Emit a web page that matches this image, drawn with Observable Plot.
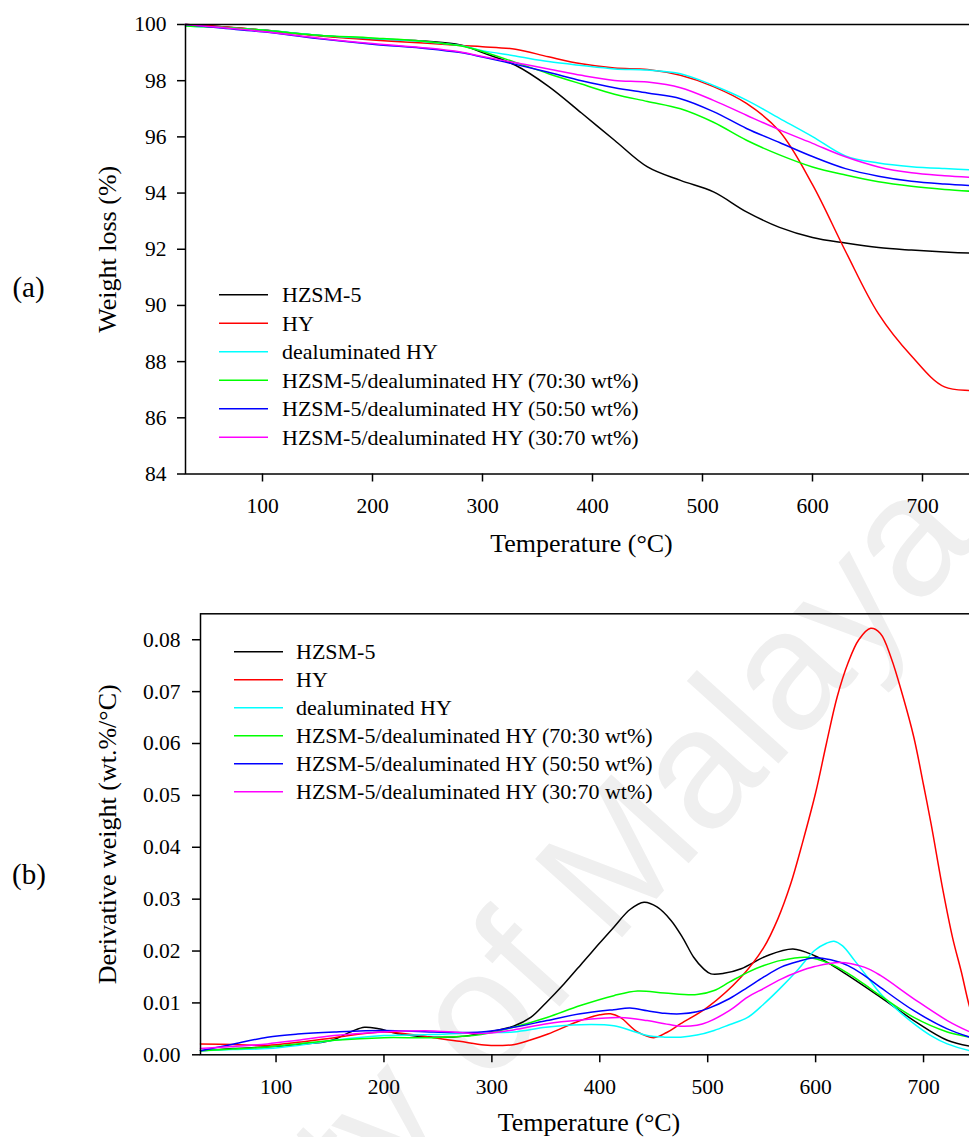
<!DOCTYPE html>
<html>
<head>
<meta charset="utf-8">
<script src="https://cdn.jsdelivr.net/npm/d3@7"></script>
<script src="https://cdn.jsdelivr.net/npm/@observablehq/plot@0.6"></script>
<style>
  html, body { margin: 0; padding: 0; background: #fff; }
  #wrap { position: relative; width: 969px; height: 1137px; overflow: hidden; background: #fff; }
  #wrap > svg { position: absolute; left: 0; }
  [aria-label="x-axis tick"], [aria-label="y-axis tick"] { stroke-width: 1.5px; }
</style>
</head>
<body>
<div id="wrap"></div>
<script>
// ---------------- data ----------------
const series = [
  "HZSM-5",
  "HY",
  "dealuminated HY",
  "HZSM-5/dealuminated HY (70:30 wt%)",
  "HZSM-5/dealuminated HY (50:50 wt%)",
  "HZSM-5/dealuminated HY (30:70 wt%)"
];
const seriesColors = ["#000000", "#ff0000", "#00ffff", "#00ff00", "#0000ff", "#ff00ff"];

const tempTicks = [100, 200, 300, 400, 500, 600, 700];
const tgaTicks = [84, 86, 88, 90, 92, 94, 96, 98, 100];
const dtgTicks = [0, 0.01, 0.02, 0.03, 0.04, 0.05, 0.06, 0.07, 0.08];

// (a) TGA: weight (%) vs temperature (°C)
const tgaTemp = [30, 60, 100, 150, 200, 250, 280, 300, 330, 360, 390, 420, 450, 480, 510, 540, 570, 600, 630, 660, 690, 720, 750];
const tgaHZSM5 = [100.0, 99.93, 99.80, 99.62, 99.49, 99.40, 99.27, 99.00, 98.55, 97.80, 96.85, 95.88, 94.93, 94.45, 94.04, 93.33, 92.78, 92.42, 92.22, 92.06, 91.97, 91.90, 91.85];
const tgaHY = [100.0, 99.93, 99.80, 99.60, 99.45, 99.33, 99.25, 99.21, 99.12, 98.85, 98.60, 98.45, 98.40, 98.19, 97.79, 97.19, 96.20, 94.30, 91.93, 89.70, 88.20, 87.10, 86.98];
const tgaDealHY = [99.95, 99.90, 99.80, 99.62, 99.50, 99.38, 99.25, 99.07, 98.88, 98.68, 98.54, 98.42, 98.38, 98.25, 97.83, 97.31, 96.66, 96.01, 95.32, 95.07, 94.94, 94.87, 94.82];
const tga7030 = [99.95, 99.90, 99.80, 99.62, 99.52, 99.39, 99.24, 99.04, 98.65, 98.25, 97.88, 97.52, 97.26, 97.00, 96.52, 95.88, 95.36, 94.93, 94.64, 94.40, 94.24, 94.13, 94.05];
const tga5050 = [100.0, 99.88, 99.74, 99.50, 99.30, 99.14, 99.00, 98.84, 98.58, 98.30, 98.00, 97.75, 97.56, 97.36, 96.90, 96.30, 95.80, 95.30, 94.87, 94.60, 94.42, 94.32, 94.25];
const tga3070 = [100.0, 99.90, 99.75, 99.52, 99.32, 99.16, 99.02, 98.86, 98.64, 98.42, 98.19, 98.01, 97.95, 97.75, 97.30, 96.77, 96.25, 95.77, 95.29, 94.93, 94.72, 94.62, 94.55];

// (b) DTG: derivative weight (wt.%/°C) vs temperature (°C)
const dtgHZSM5T = [30, 60, 90, 120, 150, 170, 182, 195, 215, 245, 275, 300, 320, 336, 350, 367, 385, 398, 413, 428, 441, 453, 466, 477, 487, 496, 503, 515, 531, 555, 579, 599, 615, 630, 660, 691, 722, 750];
const dtgHZSM5 = [0.0008, 0.0012, 0.0015, 0.0020, 0.0027, 0.0045, 0.0053, 0.0050, 0.0040, 0.0034, 0.0036, 0.0045, 0.0055, 0.0072, 0.0100, 0.0137, 0.0180, 0.0211, 0.0246, 0.0280, 0.0294, 0.0285, 0.0259, 0.0225, 0.0188, 0.0166, 0.0156, 0.0157, 0.0166, 0.0191, 0.0204, 0.0191, 0.0173, 0.0153, 0.0111, 0.0066, 0.0028, 0.0014];

const dtgHYT = [30, 60, 92, 120, 154, 200, 246, 270, 293, 310, 321, 335, 352, 382, 400, 410, 419, 435, 450, 462, 475, 500, 531, 552, 565, 577, 588, 600, 610, 620, 630, 640, 651, 660, 670, 681, 691, 700, 707, 718, 727, 735, 743, 750];
const dtgHY = [0.0021, 0.0020, 0.0018, 0.0024, 0.0033, 0.0044, 0.0033, 0.0026, 0.0019, 0.0018, 0.0020, 0.0028, 0.0040, 0.0066, 0.0077, 0.0079, 0.0072, 0.0044, 0.0033, 0.0043, 0.0060, 0.0092, 0.0150, 0.0207, 0.0262, 0.0330, 0.0410, 0.0505, 0.0600, 0.0690, 0.0755, 0.0800, 0.0822, 0.0812, 0.0765, 0.0690, 0.0612, 0.0520, 0.0445, 0.0317, 0.0225, 0.0160, 0.0090, 0.0050];

const dtgDealHYT = [30, 60, 92, 120, 154, 200, 246, 290, 320, 350, 382, 413, 430, 444, 460, 475, 490, 506, 520, 537, 552, 568, 584, 599, 610, 617, 625, 636, 648, 660, 675, 691, 706, 722, 743, 750];
const dtgDealHY = [0.0008, 0.0010, 0.0012, 0.0018, 0.0028, 0.0037, 0.0039, 0.0043, 0.0044, 0.0053, 0.0058, 0.0056, 0.0046, 0.0037, 0.0034, 0.0034, 0.0038, 0.0047, 0.0058, 0.0072, 0.0098, 0.0130, 0.0165, 0.0201, 0.0215, 0.0219, 0.0210, 0.0182, 0.0150, 0.0118, 0.0088, 0.0060, 0.0038, 0.0021, 0.0008, 0.0006];

const dtg7030T = [30, 60, 92, 120, 154, 200, 246, 290, 320, 351, 382, 413, 435, 460, 490, 506, 520, 537, 552, 568, 592, 614, 630, 645, 660, 691, 722, 743, 750];
const dtg7030 = [0.0008, 0.0011, 0.0015, 0.0021, 0.0028, 0.0033, 0.0033, 0.0039, 0.0053, 0.0072, 0.0095, 0.0114, 0.0123, 0.0119, 0.0116, 0.0124, 0.0140, 0.0159, 0.0172, 0.0182, 0.0188, 0.0175, 0.0157, 0.0136, 0.0114, 0.0072, 0.0044, 0.0034, 0.0031];

const dtg5050T = [30, 61, 92, 120, 154, 200, 246, 290, 320, 351, 382, 413, 428, 444, 460, 475, 490, 500, 520, 537, 552, 568, 584, 599, 614, 630, 645, 660, 691, 722, 743, 750];
const dtg5050 = [0.0008, 0.0021, 0.0034, 0.0040, 0.0044, 0.0047, 0.0044, 0.0044, 0.0053, 0.0066, 0.0079, 0.0087, 0.0090, 0.0085, 0.0080, 0.0079, 0.0083, 0.0089, 0.0108, 0.0130, 0.0150, 0.0169, 0.0180, 0.0187, 0.0183, 0.0172, 0.0153, 0.0130, 0.0085, 0.0050, 0.0034, 0.0030];

const dtg3070T = [30, 60, 92, 120, 154, 200, 246, 290, 320, 351, 382, 419, 444, 460, 475, 490, 500, 520, 537, 552, 568, 584, 599, 622, 645, 660, 691, 722, 743, 750];
const dtg3070 = [0.0012, 0.0016, 0.0021, 0.0028, 0.0037, 0.0044, 0.0046, 0.0041, 0.0048, 0.0060, 0.0067, 0.0072, 0.0066, 0.0060, 0.0055, 0.0057, 0.0063, 0.0085, 0.0111, 0.0128, 0.0146, 0.0160, 0.0170, 0.0178, 0.0169, 0.0153, 0.0108, 0.0066, 0.0044, 0.0038];

// ---------------- tables ----------------
const tgaValues = [tgaHZSM5, tgaHY, tgaDealHY, tga7030, tga5050, tga3070];
const tgaRows = series.flatMap((s, i) => tgaTemp.map((t, j) => ({T: t, v: tgaValues[i][j], s})));
const dtgTemps = [dtgHZSM5T, dtgHYT, dtgDealHYT, dtg7030T, dtg5050T, dtg3070T];
const dtgValues = [dtgHZSM5, dtgHY, dtgDealHY, dtg7030, dtg5050, dtg3070];
const dtgRows = series.flatMap((s, i) => dtgTemps[i].map((t, j) => ({T: t, v: dtgValues[i][j], s})));

// ---------------- layout ----------------
const FONT = "'Liberation Serif', 'Times New Roman', Times, serif";
const wrap = document.getElementById("wrap");

// watermark (behind the charts)
const wm = d3.select(wrap).append("svg")
  .attr("width", 969).attr("height", 1137).style("top", "0px");
wm.append("text")
  .attr("transform", "translate(434,1079) rotate(-48)")
  .attr("text-anchor", "middle")
  .attr("dominant-baseline", "middle")
  .attr("font-family", "'Liberation Sans', Arial, sans-serif")
  .attr("font-size", 170)
  .attr("fill", "#efefef")
  .text("University of Malaya");

const baseStyle = {
  fontFamily: FONT,
  fontSize: "21.5px",
  color: "#000",
  background: "transparent",
  maxWidth: "none",
  overflow: "visible"
};

const plotA = Plot.plot({
  width: 977,
  height: 570,
  marginTop: 24,
  marginLeft: 185,
  marginRight: 0,
  marginBottom: 96.5,
  style: baseStyle,
  x: {domain: [30, 750], ticks: tempTicks, tickSize: 8, tickPadding: 16, label: null},
  y: {domain: [84, 100], ticks: tgaTicks, tickSize: 8, tickPadding: 11, label: null},
  color: {domain: series, range: seriesColors},
  marks: [
    Plot.line(tgaRows, {x: "T", y: "v", z: "s", stroke: "s", strokeWidth: 1.5, curve: "catmull-rom"}),
    Plot.frame({stroke: "#000", strokeWidth: 1.5}),
    Plot.text(["Temperature (°C)"], {text: d => d, frameAnchor: "bottom", textAnchor: "middle", lineAnchor: "middle", dy: 70, fontSize: 26}),
    Plot.text(["Weight loss (%)"], {text: d => d, frameAnchor: "left", textAnchor: "middle", lineAnchor: "middle", rotate: -90, dx: -77.5, fontSize: 26})
  ]
});

const plotB = Plot.plot({
  width: 977,
  height: 567,
  marginTop: 43.3,
  marginLeft: 200,
  marginRight: 0,
  marginBottom: 82.7,
  style: baseStyle,
  x: {domain: [30, 750], ticks: tempTicks, tickSize: 8, tickPadding: 16, label: null},
  y: {domain: [0, 0.085], ticks: dtgTicks, tickFormat: ".2f", tickSize: 8, tickPadding: 12, label: null},
  color: {domain: series, range: seriesColors},
  marks: [
    Plot.line(dtgRows, {x: "T", y: "v", z: "s", stroke: "s", strokeWidth: 1.5, curve: "catmull-rom"}),
    Plot.frame({stroke: "#000", strokeWidth: 1.5}),
    Plot.text(["Temperature (°C)"], {text: d => d, frameAnchor: "bottom", textAnchor: "middle", lineAnchor: "middle", dy: 68, fontSize: 26}),
    Plot.text(["Derivative weight (wt.%/°C)"], {text: d => d, frameAnchor: "left", textAnchor: "middle", lineAnchor: "middle", rotate: -90, dx: -92.5, fontSize: 26})
  ]
});

function decorate(svg, opts) {
  const g = d3.select(svg).append("g")
    .attr("font-family", FONT)
    .attr("fill", "#000")
    .attr("text-anchor", "start");
  series.forEach((s, i) => {
    const y = opts.legendY + i * opts.legendStep;
    g.append("line")
      .attr("x1", opts.lineX0).attr("x2", opts.lineX1)
      .attr("y1", y).attr("y2", y)
      .attr("stroke", seriesColors[i]).attr("stroke-width", 1.5);
    g.append("text")
      .attr("x", opts.textX).attr("y", y).attr("dy", "0.34em")
      .attr("text-anchor", "start")
      .attr("font-size", 22)
      .text(s);
  });
  g.append("text")
    .attr("x", opts.tagX).attr("y", opts.tagY)
    .attr("text-anchor", "middle")
    .attr("font-size", 29)
    .text(opts.tag);
}

decorate(plotA, {legendY: 294.7, legendStep: 28.5, lineX0: 219, lineX1: 268, textX: 282, tag: "(a)", tagX: 28.5, tagY: 297});
decorate(plotB, {legendY: 81.7, legendStep: 28, lineX0: 234, lineX1: 283, textX: 296, tag: "(b)", tagX: 29, tagY: 313.7});

plotA.style.top = "0px";
plotB.style.top = "570px";
wrap.appendChild(plotA);
wrap.appendChild(plotB);
</script>
</body>
</html>
